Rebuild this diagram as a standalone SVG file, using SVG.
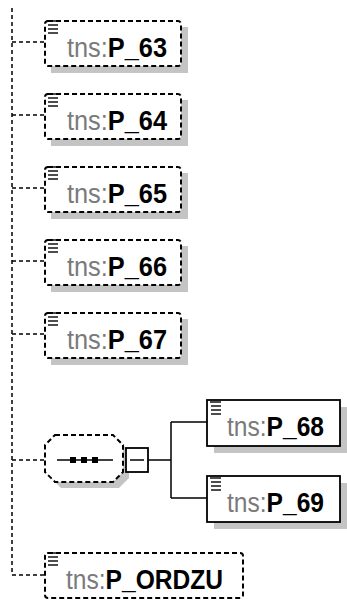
<svg xmlns="http://www.w3.org/2000/svg" width="347" height="603" viewBox="0 0 347 603">
<defs>
<style>
.conn{fill:none;stroke:#000;stroke-width:1.5;stroke-dasharray:4 3}
.solid{fill:none;stroke:#000;stroke-width:1.5}
.shadow{fill:#c4c4c4}
.dbox{fill:#fff;stroke:#000;stroke-width:2;stroke-dasharray:5 3}
.sbox{fill:#fff;stroke:#000;stroke-width:1.8}
.lbl{font-family:"Liberation Sans",Arial,sans-serif;font-size:27px}
.ns{fill:#7a7a7a}
.nm{fill:#000;font-weight:bold}
.ico{stroke:#000;stroke-width:1.4}
</style>
<g id="icon">
<line class="ico" x1="0" y1="0" x2="11" y2="0"/>
<line class="ico" x1="1" y1="4" x2="11" y2="4"/>
<line class="ico" x1="1" y1="8" x2="11" y2="8"/>
<line class="ico" x1="1" y1="12" x2="11" y2="12"/>
</g>
</defs>
<g id="connectors">
<path class="conn" d="M12,8 V575 H45"/>
<path class="conn" d="M12,42 H45"/>
<path class="conn" d="M12,115 H45"/>
<path class="conn" d="M12,188 H45"/>
<path class="conn" d="M12,261 H45"/>
<path class="conn" d="M12,334 H45"/>
<path class="conn" d="M12,460 H45"/>
<path class="solid" d="M148,460 H171 M171,422 V498 M171,422 H207 M171,498 H207"/>
</g>
<g id="P_63">
<rect class="shadow" x="51" y="27" width="137" height="46"/>
<rect class="dbox" x="45" y="21" width="136" height="45" rx="3"/>
<use href="#icon" x="47" y="21"/>
<text class="lbl" x="67" y="57" textLength="100" lengthAdjust="spacingAndGlyphs"><tspan class="ns">tns:</tspan><tspan class="nm">P_63</tspan></text>
</g>
<g id="P_64">
<rect class="shadow" x="51" y="100" width="137" height="46"/>
<rect class="dbox" x="45" y="94" width="136" height="45" rx="3"/>
<use href="#icon" x="47" y="94"/>
<text class="lbl" x="67" y="130" textLength="100" lengthAdjust="spacingAndGlyphs"><tspan class="ns">tns:</tspan><tspan class="nm">P_64</tspan></text>
</g>
<g id="P_65">
<rect class="shadow" x="51" y="173" width="137" height="46"/>
<rect class="dbox" x="45" y="167" width="136" height="45" rx="3"/>
<use href="#icon" x="47" y="167"/>
<text class="lbl" x="67" y="203" textLength="100" lengthAdjust="spacingAndGlyphs"><tspan class="ns">tns:</tspan><tspan class="nm">P_65</tspan></text>
</g>
<g id="P_66">
<rect class="shadow" x="51" y="246" width="137" height="46"/>
<rect class="dbox" x="45" y="240" width="136" height="45" rx="3"/>
<use href="#icon" x="47" y="240"/>
<text class="lbl" x="67" y="276" textLength="100" lengthAdjust="spacingAndGlyphs"><tspan class="ns">tns:</tspan><tspan class="nm">P_66</tspan></text>
</g>
<g id="P_67">
<rect class="shadow" x="51" y="319" width="137" height="46"/>
<rect class="dbox" x="45" y="313" width="136" height="45" rx="3"/>
<use href="#icon" x="47" y="313"/>
<text class="lbl" x="67" y="349" textLength="100" lengthAdjust="spacingAndGlyphs"><tspan class="ns">tns:</tspan><tspan class="nm">P_67</tspan></text>
</g>
<g id="sequence">
<path class="shadow" d="M61,441 H119 L129,451 V478 L119,488 H61 L51,478 V451 Z"/>
<path class="dbox" d="M55,435 H113 L123,445 V472 L113,482 H55 L45,472 V445 Z"/>
<line class="solid" x1="57" y1="460" x2="113" y2="460"/>
<rect x="70" y="457" width="6" height="6" fill="#000"/>
<rect x="81" y="457" width="6" height="6" fill="#000"/>
<rect x="92" y="457" width="6" height="6" fill="#000"/>
<rect class="sbox" x="126" y="448" width="22" height="24"/>
<line class="solid" x1="130" y1="460" x2="144" y2="460"/>
</g>
<g id="P_68">
<rect class="shadow" x="214" y="407" width="134" height="46"/>
<rect class="sbox" x="207" y="400" width="133" height="46"/>
<use href="#icon" x="210" y="402"/>
<text class="lbl" x="227" y="436" textLength="97" lengthAdjust="spacingAndGlyphs"><tspan class="ns">tns:</tspan><tspan class="nm">P_68</tspan></text>
</g>
<g id="P_69">
<rect class="shadow" x="214" y="483" width="134" height="46"/>
<rect class="sbox" x="207" y="476" width="133" height="46"/>
<use href="#icon" x="210" y="478"/>
<text class="lbl" x="227" y="512" textLength="97" lengthAdjust="spacingAndGlyphs"><tspan class="ns">tns:</tspan><tspan class="nm">P_69</tspan></text>
</g>
<g id="P_ORDZU">
<rect class="dbox" x="45" y="553" width="198" height="45" rx="3"/>
<use href="#icon" x="47" y="553"/>
<text class="lbl" x="66" y="589" textLength="157" lengthAdjust="spacingAndGlyphs"><tspan class="ns">tns:</tspan><tspan class="nm">P_ORDZU</tspan></text>
</g>
</svg>
